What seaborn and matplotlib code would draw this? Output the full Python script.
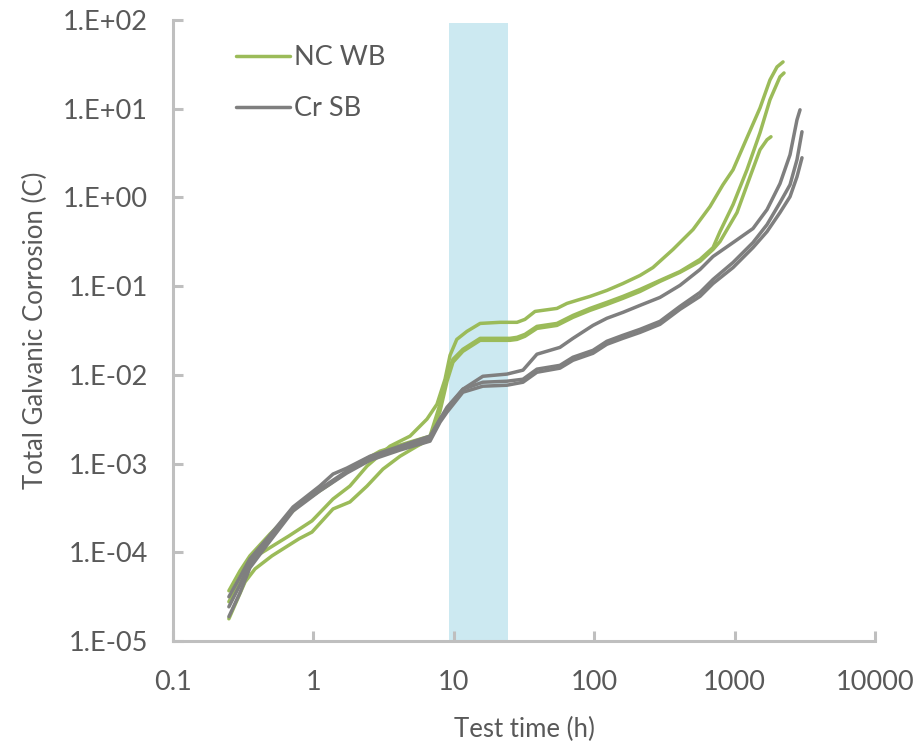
import numpy as np
import pandas as pd
import matplotlib
matplotlib.use("Agg")
import matplotlib.pyplot as plt
import seaborn as sns
from matplotlib.lines import Line2D
from matplotlib.ticker import FixedLocator, FuncFormatter, NullLocator

# ---------------- data ----------------
series_names = ["NC WB", "Cr SB"]

g1_time = [0.25, 0.30, 0.384, 0.670, 0.977, 1.38, 1.82, 2.41, 3.51, 4.88, 6.44, 7.59, 8.66, 9.40, 10.5,
           12.4, 15.4, 21.3, 28.2, 32.1, 37.9, 54.3, 64.0, 79.2, 93.3, 123, 160, 212, 262, 364, 506,
           668, 826, 975, 1225, 1517, 1786, 2005, 2213]
g1_val = [2.77e-5, 4.76e-5, 8.88e-5, 1.53e-4, 2.26e-4, 3.99e-4, 5.58e-4, 9.37e-4, 1.57e-3, 2.04e-3,
          3.17e-3, 4.67e-3, 8.93e-3, 0.0166, 0.0251, 0.0309, 0.0380, 0.0391, 0.0391, 0.0422, 0.0519,
          0.0561, 0.0639, 0.0709, 0.0766, 0.0895, 0.107, 0.132, 0.162, 0.259, 0.435, 0.788, 1.39,
          2.05, 4.71, 10.2, 21.1, 29.6, 33.7]

g2_time = [0.25, 0.30, 0.353, 0.491, 0.803, 1.31, 2.05, 2.98, 4.88, 6.77, 7.98, 8.95, 9.87, 11.6,
           15.4, 25.1, 28.2, 32.1, 39.1, 54.3, 70.6, 93.3, 123, 160, 212, 294, 408, 567, 702, 787,
           975, 1225, 1517, 1786, 2105, 2249]
g2_val = [3.68e-5, 6.18e-5, 9.12e-5, 1.61e-4, 3.50e-4, 5.87e-4, 9.86e-4, 1.38e-3, 1.75e-3, 2.04e-3,
          4.67e-3, 0.0102, 0.0150, 0.0194, 0.0258, 0.0258, 0.0265, 0.0286, 0.0352, 0.0380, 0.0468,
          0.0561, 0.0656, 0.0766, 0.0918, 0.116, 0.146, 0.200, 0.272, 0.412, 0.830, 2.05, 5.36,
          12.6, 22.9, 25.3]

g3_time = [0.25, 0.326, 0.384, 0.507, 0.790, 0.977, 1.38, 1.82, 2.41, 3.13, 4.14, 5.47, 6.77, 7.98,
           8.95, 9.87, 11.6, 15.4, 25.1, 28.2, 32.1, 39.1, 54.3, 70.6, 93.3, 123, 160, 212, 294, 408,
           567, 702, 787, 1040, 1288, 1517, 1702, 1816]
g3_val = [1.78e-5, 4.64e-5, 6.50e-5, 9.12e-5, 1.42e-4, 1.69e-4, 3.08e-4, 3.69e-4, 5.58e-4, 8.67e-4,
          1.21e-3, 1.57e-3, 1.89e-3, 3.90e-3, 8.48e-3, 0.0139, 0.0184, 0.0245, 0.0245, 0.0251, 0.0272,
          0.0334, 0.0361, 0.0445, 0.0533, 0.0622, 0.0728, 0.0871, 0.113, 0.143, 0.190, 0.259, 0.318,
          0.675, 1.71, 3.45, 4.47, 4.83]

k1_time = [0.25, 0.30, 0.353, 0.467, 0.716, 1.11, 1.38, 1.73, 2.53, 4.14, 6.77, 7.98, 8.95, 11.6,
           16.1, 23.9, 31.1, 39.1, 57.0, 70.6, 98.0, 123, 160, 212, 294, 408, 567, 702, 975, 1352,
           1702, 2105, 2482, 2782, 2924]
k1_val = [3.15e-5, 5.28e-5, 8.43e-5, 1.42e-4, 3.24e-4, 5.58e-4, 7.62e-4, 8.89e-4, 1.21e-3, 1.57e-3,
          2.04e-3, 3.17e-3, 4.32e-3, 6.89e-3, 9.64e-3, 0.0102, 0.0113, 0.0171, 0.0204, 0.0258, 0.0361,
          0.0434, 0.0506, 0.0607, 0.0746, 0.102, 0.154, 0.216, 0.310, 0.446, 0.729, 1.43, 3.03, 7.50,
          9.72]

k23_time = [0.25, 0.30, 0.353, 0.467, 0.716, 1.11, 1.73, 2.53, 4.14, 6.77, 7.98, 8.95, 11.6, 16.1,
            23.9, 31.1, 39.1, 57.0, 70.6, 98.0, 123, 160, 212, 294, 408, 567, 702, 975, 1352, 1702,
            2105, 2482, 2782, 3020]
k2_val = [2.43e-5, 4.30e-5, 7.60e-5, 1.31e-4, 3.08e-4, 5.16e-4, 8.24e-4, 1.15e-3, 1.49e-3, 1.89e-3,
          3.17e-3, 4.10e-3, 6.89e-3, 8.26e-3, 8.48e-3, 8.93e-3, 0.0116, 0.0128, 0.0158, 0.0189, 0.0239,
          0.0279, 0.0326, 0.0401, 0.0591, 0.0849, 0.119, 0.185, 0.310, 0.494, 0.874, 1.39, 2.66, 5.50]
k3_val = [1.88e-5, 3.49e-5, 6.68e-5, 1.21e-4, 2.92e-4, 4.91e-4, 7.82e-4, 1.09e-3, 1.42e-3, 1.79e-3,
          2.93e-3, 3.80e-3, 6.37e-3, 7.45e-3, 7.64e-3, 8.26e-3, 0.0107, 0.0119, 0.0146, 0.0175, 0.0221,
          0.0258, 0.0301, 0.0371, 0.0547, 0.0766, 0.107, 0.162, 0.272, 0.412, 0.675, 1.02, 1.71, 2.80]

band_start, band_end, band_top = 9.2, 24.2, 92.0

x_ticks = [0.1, 1, 10, 100, 1000, 10000]
x_tick_labels = ["0.1", "1", "10", "100", "1000", "10000"]
y_ticks = [1e-5, 1e-4, 1e-3, 1e-2, 1e-1, 1e0, 1e1, 1e2]

# ---------------- assemble ----------------
runs = [
    ("NC WB", "g1", g1_time, g1_val),
    ("NC WB", "g2", g2_time, g2_val),
    ("NC WB", "g3", g3_time, g3_val),
    ("Cr SB", "k1", k1_time, k1_val),
    ("Cr SB", "k2", k23_time, k2_val),
    ("Cr SB", "k3", k23_time, k3_val),
]
frames = []
for s, r, t, v in runs:
    frames.append(pd.DataFrame({"time": t, "value": v, "series": s, "run": r}))
df = pd.concat(frames, ignore_index=True)

GREEN = "#9BBB59"
GRAY = "#7F7F7F"
TEXT = "#595959"
AXIS = "#BFBFBF"
palette = {"NC WB": GREEN, "Cr SB": GRAY}
LW = 2.5
FS = 19.5

sns.set_theme(style="white")
plt.rcParams["font.family"] = ["Lato", "DejaVu Sans"]

fig = plt.figure(figsize=(9.2, 7.45), dpi=100)
ax = fig.add_axes([173 / 920, 1 - 641 / 745, (875 - 173) / 920, (641 - 20) / 745])

ax.set_xscale("log")
ax.set_yscale("log")
ax.set_xlim(0.1, 10000)
ax.set_ylim(1e-5, 1e2)

ax.fill_between([band_start, band_end], 1e-5, band_top, color="#CCE9F1", linewidth=0, zorder=0)

for name in ["NC WB", "Cr SB"]:
    sub = df[df["series"] == name]
    sns.lineplot(data=sub, x="time", y="value", units="run", estimator=None, sort=False,
                 color=palette[name], linewidth=LW, ax=ax, legend=False, zorder=2)

for sp in ["top", "right"]:
    ax.spines[sp].set_visible(False)
for sp in ["left", "bottom"]:
    ax.spines[sp].set_color(AXIS)
    ax.spines[sp].set_linewidth(2.2)

ax.xaxis.set_major_locator(FixedLocator(x_ticks))
ax.xaxis.set_minor_locator(NullLocator())
ax.set_xticks(x_ticks)
ax.set_xticklabels(x_tick_labels)
ax.yaxis.set_major_locator(FixedLocator(y_ticks))
ax.yaxis.set_minor_locator(NullLocator())
ax.yaxis.set_major_formatter(FuncFormatter(lambda v, _: "1.E{:+03d}".format(int(round(np.log10(v))))))

ax.tick_params(axis="x", which="major", direction="in", length=7, width=2.2, color=AXIS,
               labelsize=FS, labelcolor=TEXT, pad=21, bottom=True)
ax.tick_params(axis="y", which="major", direction="in", length=7, width=2.2, color=AXIS,
               labelsize=FS, labelcolor=TEXT, pad=18, left=True)

ax.set_xlabel("Test time (h)", fontsize=18.5, color=TEXT, labelpad=16)
ax.set_ylabel("Total Galvanic Corrosion (C)", fontsize=18.5, color=TEXT, labelpad=11)
ax.grid(False)

handles = [Line2D([], [], color=palette[n], linewidth=LW) for n in series_names]
leg = ax.legend(handles, series_names, loc="upper left", bbox_to_anchor=(236 / 920, 1 - 45 / 745),
                bbox_transform=fig.transFigure, frameon=False, fontsize=FS, handlelength=2.0,
                handletextpad=0.15, labelspacing=0.97, borderpad=0, borderaxespad=0)
for t in leg.get_texts():
    t.set_color(TEXT)

fig.savefig("out.png", dpi=100)
